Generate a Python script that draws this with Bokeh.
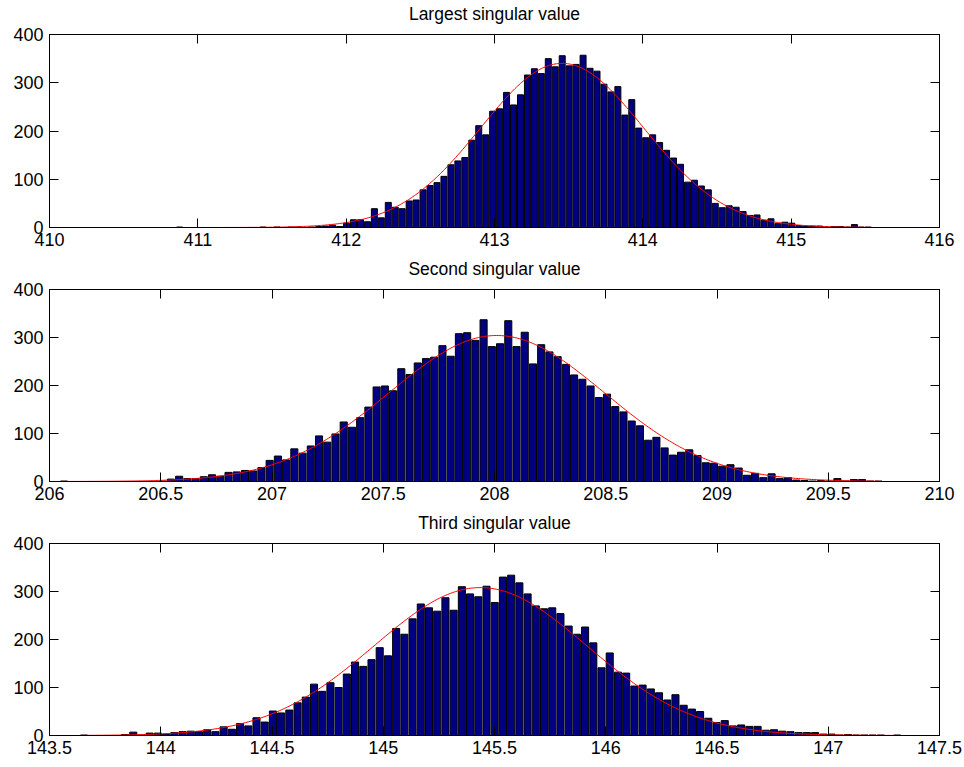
import numpy as np
from bokeh.plotting import figure
from bokeh.layouts import column
from bokeh.models import FixedTicker, LinearAxis, Range1d, Title
from bokeh.embed import file_html
from bokeh.resources import INLINE

# ---------------- data ----------------
TITLES = ["Largest singular value", "Second singular value", "Third singular value"]
N_SAMPLES = 10000

# histogram 1 (100 bins)
BIN_START_1 = 410.877   # centre of first bin
BIN_WIDTH_1 = 0.0469
COUNTS_1 = [1, 0, 0, 0, 0, 0, 0, 0, 0, 0, 0, 0, 1, 0, 1, 0, 1, 1, 0, 1, 2, 3,
            5, 2, 9, 16, 16, 12, 39, 20, 52, 42, 39, 55, 57, 78, 87, 93, 106, 130,
            138, 145, 181, 211, 192, 241, 246, 280, 254, 275, 316, 329, 319, 350,
            333, 356, 335, 338, 357, 330, 324, 297, 281, 292, 233, 265, 206, 186,
            192, 176, 160, 144, 131, 94, 98, 86, 78,
            50, 41, 45, 42, 33, 25, 26, 15, 18, 8, 11, 9, 4, 3, 3, 3, 1, 2, 2, 1, 6, 1,
            1]
MU_1, SIGMA_1 = 413.456, 0.55
XRANGE_1 = (410, 416)
XTICKS_1 = [410, 411, 412, 413, 414, 415, 416]
XLABELS_1 = ["410", "411", "412", "413", "414", "415", "416"]

# histogram 2
BIN_START_2 = 206.065
BIN_WIDTH_2 = 0.03698
COUNTS_2 = [1, 0, 0, 0, 0, 0, 0, 0, 0, 0, 0, 0,
            1, 5, 11, 6, 6, 10, 14, 11, 19, 20, 23, 22, 29, 44, 53, 45, 68, 59, 74, 95, 82, 99,
            124, 113, 133, 155, 197, 199, 189, 235, 223, 247, 256, 259, 283, 261, 308, 310,
            294, 337, 281, 287, 335, 281, 311,
            245, 285, 270, 260, 244, 222, 213, 199, 175, 182, 156, 145, 126, 116, 86, 92,
            70, 55, 61, 66, 54, 39, 38,
            32, 35, 28, 13, 17, 8, 16, 6, 8, 3, 2, 1, 2, 1, 6, 1, 4, 4, 1, 1]
MU_2, SIGMA_2 = 208.01, 0.485
XRANGE_2 = (206, 210)
XTICKS_2 = [206, 206.5, 207, 207.5, 208, 208.5, 209, 209.5, 210]
XLABELS_2 = ["206", "206.5", "207", "207.5", "208", "208.5", "209", "209.5", "210"]

# histogram 3
BIN_START_3 = 143.655
BIN_WIDTH_3 = 0.03692
COUNTS_3 = [1, 0, 0, 0, 0,
            2, 7, 1, 5, 5, 3, 6, 8, 9, 8, 12, 8, 18, 13, 25, 20, 37, 28, 51, 47, 53, 68, 80,
            107, 92, 110, 100, 128, 153, 144,
            158, 183, 166, 223, 211, 243, 274, 266, 259, 287, 261, 310, 295, 289, 311, 277,
            330, 334, 318, 295, 270, 264, 266, 254, 228, 211, 226, 193, 141, 172, 132, 130, 103,
            105, 97, 89, 74, 85, 63, 55, 50, 36, 27, 31, 20, 22, 19, 19, 11, 12, 9, 8, 6, 6, 6,
            3, 3, 1, 2, 1, 1, 1, 1, 0, 1]
MU_3, SIGMA_3 = 145.437, 0.478
XRANGE_3 = (143.5, 147.5)
XTICKS_3 = [143.5, 144, 144.5, 145, 145.5, 146, 146.5, 147, 147.5]
XLABELS_3 = ["143.5", "144", "144.5", "145", "145.5", "146", "146.5", "147", "147.5"]

YTICKS = [0, 100, 200, 300, 400]
YMAX = 400

FONT = "Liberation Sans"
FRAME_W = 890
LEFT_B = 49
RIGHT_B = 24
TITLE_GAP = 10   # extra space between the box and the title


def style_axis(ax, ticks, labels=None, show=True, standoff=5):
    ax.ticker = FixedTicker(ticks=ticks)
    if labels is not None:
        ax.major_label_overrides = {float(t): l for t, l in zip(ticks, labels)}
    ax.major_tick_in = 9
    ax.major_tick_out = 0
    ax.minor_tick_line_color = None
    ax.axis_line_color = "black"
    ax.major_tick_line_color = "black"
    ax.major_label_text_font = FONT
    ax.major_label_text_color = "black"
    if show:
        ax.major_label_standoff = standoff
        ax.major_label_text_font_size = "18px"
    else:
        ax.major_label_standoff = 0
        ax.major_label_text_font_size = "0px"
        ax.major_label_text_alpha = 0


def make(counts, start, width, mu, sigma, xr, xticks, xlabels, title,
         top, frame_h, bottom, xstandoff):
    p = figure(width=LEFT_B + FRAME_W + RIGHT_B, height=top + frame_h + bottom,
               x_range=Range1d(*xr), y_range=Range1d(0, YMAX),
               output_backend="svg", toolbar_location=None,
               x_axis_type=None, y_axis_type=None,
               min_border_left=LEFT_B, min_border_right=RIGHT_B,
               min_border_top=top, min_border_bottom=bottom)
    p.outline_line_color = "black"
    p.outline_line_width = 1
    p.background_fill_color = "white"
    p.border_fill_color = "white"

    counts = np.asarray(counts, dtype=float)
    centers = start + width * np.arange(len(counts))
    p.vbar(x=centers, top=counts, bottom=0, width=width * 0.86,
           fill_color="#000080", line_color="black", line_width=1)

    xs = np.linspace(centers[0], centers[-1], 500)
    ys = N_SAMPLES * width / (sigma * np.sqrt(2 * np.pi)) * np.exp(-0.5 * ((xs - mu) / sigma) ** 2)
    p.line(xs, ys, line_color="red", line_width=1)

    bx = LinearAxis()
    style_axis(bx, xticks, xlabels, True, xstandoff)
    p.add_layout(bx, "below")
    tx = LinearAxis()
    style_axis(tx, xticks, None, False)
    p.add_layout(tx, "above")
    # invisible spacer axis that only pushes the title upward
    spacer = LinearAxis(ticker=FixedTicker(ticks=xticks), axis_line_color=None,
                        major_tick_line_color=None, minor_tick_line_color=None,
                        major_tick_in=0, major_tick_out=TITLE_GAP,
                        major_label_standoff=0, major_label_text_font_size="0px",
                        major_label_text_alpha=0)
    p.add_layout(spacer, "above")
    ly = LinearAxis()
    style_axis(ly, YTICKS, None, True, 6)
    p.add_layout(ly, "left")
    ry = LinearAxis()
    style_axis(ry, YTICKS, None, False)
    p.add_layout(ry, "right")
    p.add_layout(Title(text=title, align="center", vertical_align="bottom",
                       text_font=FONT, text_font_size="17.5px",
                       text_font_style="normal", text_color="black", standoff=2),
                 "above")
    return p


p1 = make(COUNTS_1, BIN_START_1, BIN_WIDTH_1, MU_1, SIGMA_1, XRANGE_1, XTICKS_1, XLABELS_1,
          TITLES[0], 34, 193, 28, 5)
p2 = make(COUNTS_2, BIN_START_2, BIN_WIDTH_2, MU_2, SIGMA_2, XRANGE_2, XTICKS_2, XLABELS_2,
          TITLES[1], 34, 192, 28, 5)
p3 = make(COUNTS_3, BIN_START_3, BIN_WIDTH_3, MU_3, SIGMA_3, XRANGE_3, XTICKS_3, XLABELS_3,
          TITLES[2], 34, 192, 30, 5)

layout = column(p1, p2, p3, spacing=0)
open("out.html", "w").write(file_html(layout, INLINE))
